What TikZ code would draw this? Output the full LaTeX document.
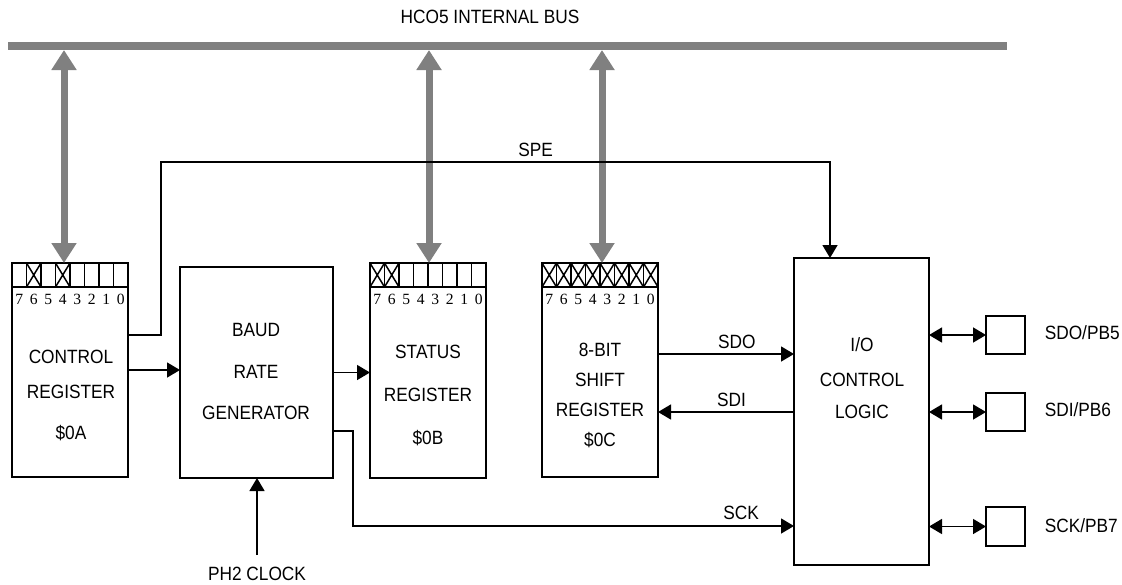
\documentclass[tikz,border=0pt]{standalone}
\usepackage{fontspec}
\setmainfont{Liberation Sans}[FakeStretch=0.9]
\newfontfamily\bitfont{Liberation Serif}
\usepackage{tikz}
\usetikzlibrary{arrows.meta,positioning,fit}
\definecolor{busgray}{gray}{0.5}

\begin{document}
\begin{tikzpicture}[x=0.5pt, y=-0.5pt, line width=0.75pt,
    box/.style={draw, rectangle, inner sep=0pt, outer sep=0pt},
    lbl/.style={font=\fontsize{9.6}{11}\selectfont, inner sep=0pt, text height=6.9pt, text depth=0pt},
    bitnum/.style={font=\bitfont\fontsize{7.8}{8}\selectfont, inner sep=0pt},
    sig/.style={-{Triangle[length=6.5pt,width=7.5pt]}},
    bidir/.style={{Triangle[length=6.5pt,width=7.5pt]}-{Triangle[length=6.5pt,width=7.5pt]}},
    busarrow/.style={draw=busgray, line width=3.5pt, {Triangle[length=10pt,width=12pt]}-{Triangle[length=10pt,width=12pt]}}]
   % Sizes
   \pgfmathsetmacro{\cellw}{14.5}
   \pgfmathsetmacro{\cellh}{24}
   \useasboundingbox (0,0) rectangle (1122,584);

   % blocks
   \node[fill=busgray, inner sep=0pt, outer sep=0pt, fit={(8,42) (1007,50)}] (bus) {};
   \node[box, fit={(12,263) (128,477)}] (ctrl) {};
   \node[box, fit={(180,267) (333,478)}] (baud) {};
   \node[box, fit={(370,263) (486,478)}] (stat) {};
   \node[box, fit={(542,263) (658,477)}] (shift) {};
   \node[box, fit={(794,258) (929,565)}] (logic) {};
   \node[box, fit={(986,316) (1025,354)}] (pinsdo) {};
   \node[box, fit={(986,393) (1025,431)}] (pinsdi) {};
   \node[box, fit={(986,507) (1025,546)}] (pinsck) {};

   % bit fields
   \foreach \reg/\crossed in {ctrl/{1,3}, stat/{0,1}, shift/{0,1,2,3,4,5,6,7}} {
     \foreach \i [evaluate=\i as \bitno using int(7-\i)] in {0,...,7} {
       \draw (\reg.north west) ++(\i*\cellw,0) rectangle ++(\cellw,\cellh);
       \path (\reg.north west) ++(\i*\cellw+\cellw/2,36) node[bitnum] {\bitno};
     }
     \foreach \c in \crossed
       \draw (\reg.north west) ++(\c*\cellw,0) -- ++(\cellw,\cellh) ++(-\cellw,0) -- ++(\cellw,-\cellh);
   }

   % bus taps
   \coordinate (ctrltap) at (64,263);
   \coordinate (stattap) at (429,263);
   \coordinate (shifttap) at (602,263);
   \foreach \tap in {ctrltap, stattap, shifttap}
     \draw[busarrow] (bus.south -| \tap) -- (\tap);

   % signals
   \coordinate (speout) at ([yshift=17.5pt]ctrl.east);
   \coordinate (spein) at ([xshift=-15.75pt]logic.north);
   \coordinate (sdo) at ([yshift=8pt]shift.east);
   \coordinate (sdi) at ([yshift=-21pt]shift.east);
   \coordinate (sckout) at ([yshift=-29.25pt]baud.east);
   \coordinate (sckin) at ([yshift=-57.25pt]logic.west);
   \coordinate (ph2) at (257,555);

   \draw[sig] (speout) -- ++(33,0) -- ++(0,-173) -| (spein)
     node[lbl, pos=0.28, above=2.5pt] {SPE};
   \draw[sig] (ctrl.east) -- (ctrl.east -| baud.west);
   \draw[sig] (baud.east) -- (baud.east -| stat.west);
   \draw[sig] (sdo) -- (sdo -| logic.west)
     node[lbl, pos=0.58, above=2.5pt] {SDO};
   \draw[sig] (sdi -| logic.west) -- (sdi)
     node[lbl, pos=0.46, above=2.5pt] {SDI};
   \draw[sig] (sckout) -- ++(20,0) |- (sckin)
     node[lbl, pos=0.94, above=3pt] {SCK};
   \draw[sig] (ph2) -- (ph2 |- baud.south);
   \draw[bidir] (pinsdo.west -| logic.east) -- (pinsdo.west);
   \draw[bidir] (pinsdi.west -| logic.east) -- (pinsdi.west);
   \draw[bidir] (pinsck.west -| logic.east) -- (pinsck.west);

   % labels
   \node[lbl] at (490,17) {HCO5 INTERNAL BUS};
   \node[lbl, below=5.5pt] at (ph2) {PH2 CLOCK};
   \node[lbl] at (71,357) {CONTROL};
   \node[lbl] at (71,392) {REGISTER};
   \node[lbl] at (71,433) {\$0A};
   \node[lbl] at (256,330) {BAUD};
   \node[lbl] at (256,372) {RATE};
   \node[lbl] at (256,413) {GENERATOR};
   \node[lbl] at (428,352) {STATUS};
   \node[lbl] at (428,395) {REGISTER};
   \node[lbl] at (428,438) {\$0B};
   \node[lbl] at (600,350) {8-BIT};
   \node[lbl] at (600,380) {SHIFT};
   \node[lbl] at (600,410) {REGISTER};
   \node[lbl] at (600,440) {\$0C};
   \node[lbl] at (862,345) {I/O};
   \node[lbl] at (862,380) {CONTROL};
   \node[lbl] at (862,412) {LOGIC};
   \node[lbl, anchor=west] at (1044,333) {SDO/PB5};
   \node[lbl, anchor=west] at (1044,410) {SDI/PB6};
   \node[lbl, anchor=west] at (1044,526) {SCK/PB7};
\end{tikzpicture}
\end{document}
